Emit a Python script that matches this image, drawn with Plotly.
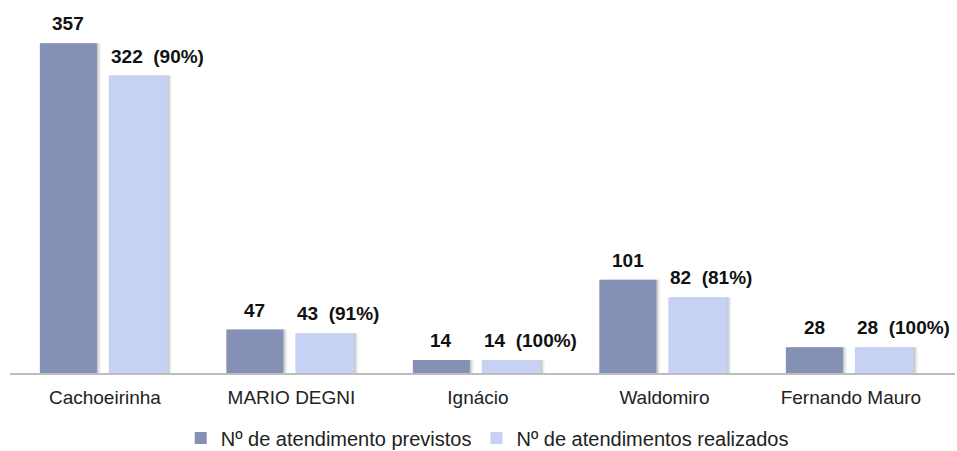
import plotly.graph_objects as go

# Atendimentos por unidade
unidades = ["Cachoeirinha", "MARIO DEGNI", "Ignácio", "Waldomiro", "Fernando Mauro"]
previstos = [357, 47, 14, 101, 28]
realizados = [322, 43, 14, 82, 28]
percentuais = [90, 91, 100, 81, 100]

serie_prev = "Nº de atendimento previstos"
serie_real = "Nº de atendimentos realizados"

cor_prev = "#8591b4"
cor_real = "#c6d1f3"

x = list(range(len(unidades)))

# geometry of the two bars inside each category slot (axis units)
off_prev, w_prev = -0.349, 0.306
off_real, w_real = 0.021, 0.316

fig = go.Figure()

# soft drop shadow behind each bar
for off, w, vals in [(off_prev, w_prev, previstos), (off_real, w_real, realizados)]:
    for dx, alpha in [(0.022, 0.06), (0.014, 0.10), (0.007, 0.14)]:
        fig.add_trace(go.Bar(
            x=x, y=vals, offset=off + dx, width=w,
            marker=dict(color=f"rgba(60,60,60,{alpha})", line=dict(width=0)),
            showlegend=False, hoverinfo="skip"))

fig.add_trace(go.Bar(x=x, y=previstos, name=serie_prev, offset=off_prev, width=w_prev,
                     marker=dict(color=cor_prev, line=dict(width=0))))
fig.add_trace(go.Bar(x=x, y=realizados, name=serie_real, offset=off_real, width=w_real,
                     marker=dict(color=cor_real, line=dict(width=0))))

lbl_font = dict(family="Liberation Sans, Arial, sans-serif", size=19, color="#111111")
for i, (p, r, pc) in enumerate(zip(previstos, realizados, percentuais)):
    fig.add_annotation(x=i + off_prev + w_prev / 2, y=p, text=f"<b>{p}</b>", showarrow=False,
                       xanchor="center", yanchor="bottom", yshift=7, font=lbl_font)
    fig.add_annotation(x=i + off_real, y=r, text=f"<b>{r}  ({pc}%)</b>", showarrow=False,
                       xanchor="left", yanchor="bottom", yshift=7, font=lbl_font)

fig.update_layout(
    width=957, height=451,
    margin=dict(l=10, r=2, t=22, b=78, autoexpand=False),
    paper_bgcolor="white", plot_bgcolor="white",
    barmode="overlay",
    font=dict(family="Liberation Sans, Arial, sans-serif", size=19, color="#222222"),
    xaxis=dict(range=[-0.509, 4.558], tickvals=x, ticktext=unidades, showgrid=False,
               zeroline=False, showline=True, linecolor="#bdbdbd", linewidth=1.5,
               ticks="", ticklabelstandoff=6, automargin=False,
               tickfont=dict(size=19, color="#222222")),
    yaxis=dict(range=[0, 380], visible=False, showgrid=False, zeroline=False),
    legend=dict(orientation="h", x=0.505, xanchor="center",
                yref="container", y=13 / 451, yanchor="middle",
                font=dict(size=20, color="#222222"), itemwidth=30, tracegroupgap=0),
    showlegend=True,
)

fig.write_html("out.html")
